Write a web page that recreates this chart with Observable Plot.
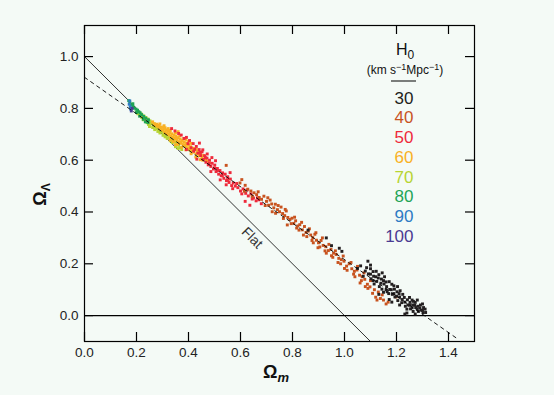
<!DOCTYPE html>
<html><head><meta charset="utf-8">
<script src="https://cdn.jsdelivr.net/npm/d3@7"></script>
<script src="https://cdn.jsdelivr.net/npm/@observablehq/plot@0.6"></script>
<style>
html,body{margin:0;padding:0;background:#f4faf6;}
#chart{width:554px;height:395px;}
</style></head><body><div id="chart"></div>
<script>
const h0Values = [30, 40, 50, 60, 70, 80, 90, 100];
const h0Colors = ["#231f20", "#c8531f", "#ee2a3b", "#f9b124", "#b7d433", "#1ea456", "#2e7bc4", "#4b3b92"];
const xTicks = [0, 0.2, 0.4, 0.6, 0.8, 1.0, 1.2, 1.4];
const yTicks = [0, 0.2, 0.4, 0.6, 0.8, 1.0];
const flatX = [0, 1.1], flatY = [1, -0.1];
const fitX = [0, 1.435], fitY = [0.92, -0.09];
const flatLabel = [{x: 0.645, y: 0.30, text: "Flat"}];

const pts70 = [[0.200,0.786],[0.206,0.779],[0.211,0.783],[0.215,0.772],[0.219,0.778],[0.224,0.766],[0.228,0.771],[0.232,0.760],[0.236,0.765],[0.240,0.754],[0.244,0.759],[0.248,0.747],[0.252,0.752],[0.256,0.741],[0.260,0.746],[0.264,0.735],[0.268,0.740],[0.272,0.729],[0.276,0.733],[0.280,0.722],[0.284,0.727],[0.288,0.716],[0.292,0.720],[0.296,0.709],[0.300,0.713],[0.305,0.703],[0.310,0.706],[0.315,0.695],[0.320,0.699],[0.326,0.688],[0.331,0.691],[0.337,0.680],[0.343,0.683],[0.349,0.671],[0.356,0.664],[0.362,0.657],[0.369,0.648],[0.374,0.641],[0.226,0.756],[0.246,0.738],[0.262,0.726],[0.282,0.711],[0.302,0.696],[0.318,0.684],[0.338,0.668],[0.250,0.730],[0.270,0.718],[0.290,0.705],[0.310,0.690],[0.330,0.675],[0.350,0.652],[0.360,0.645],[0.220,0.765],[0.240,0.745],[0.280,0.730]];
const pts60 = [[0.262,0.748],[0.268,0.741],[0.273,0.735],[0.278,0.739],[0.282,0.729],[0.287,0.734],[0.291,0.722],[0.296,0.728],[0.300,0.716],[0.304,0.723],[0.308,0.708],[0.312,0.717],[0.316,0.703],[0.320,0.712],[0.324,0.698],[0.328,0.707],[0.332,0.693],[0.336,0.702],[0.340,0.688],[0.344,0.697],[0.348,0.682],[0.352,0.692],[0.356,0.676],[0.360,0.687],[0.364,0.671],[0.368,0.682],[0.372,0.665],[0.376,0.676],[0.380,0.660],[0.384,0.670],[0.388,0.654],[0.392,0.664],[0.396,0.648],[0.400,0.659],[0.404,0.643],[0.408,0.652],[0.412,0.637],[0.416,0.646],[0.420,0.631],[0.425,0.640],[0.430,0.624],[0.435,0.633],[0.440,0.617],[0.446,0.626],[0.452,0.610],[0.458,0.618],[0.465,0.603],[0.472,0.596],[0.480,0.590],[0.350,0.705],[0.366,0.695],[0.382,0.684],[0.398,0.672],[0.342,0.672],[0.358,0.661],[0.374,0.650],[0.390,0.640],[0.410,0.625],[0.428,0.612],[0.445,0.602],[0.322,0.722],[0.306,0.733],[0.290,0.740],[0.310,0.725],[0.330,0.715],[0.350,0.685],[0.370,0.670],[0.385,0.657],[0.405,0.640],[0.420,0.645],[0.440,0.628],[0.455,0.600],[0.330,0.678],[0.350,0.660],[0.360,0.710],[0.390,0.680],[0.410,0.665],[0.430,0.642]];
const pts50 = [[0.335,0.722],[0.348,0.713],[0.362,0.703],[0.372,0.697],[0.383,0.684],[0.392,0.688],[0.398,0.664],[0.404,0.676],[0.410,0.648],[0.418,0.664],[0.424,0.642],[0.430,0.653],[0.436,0.627],[0.441,0.641],[0.447,0.618],[0.452,0.632],[0.457,0.603],[0.462,0.617],[0.467,0.592],[0.471,0.608],[0.476,0.582],[0.481,0.600],[0.486,0.576],[0.491,0.588],[0.496,0.566],[0.501,0.581],[0.506,0.556],[0.511,0.568],[0.516,0.546],[0.521,0.560],[0.526,0.540],[0.531,0.551],[0.536,0.530],[0.541,0.546],[0.546,0.521],[0.551,0.536],[0.556,0.514],[0.561,0.527],[0.566,0.502],[0.572,0.512],[0.580,0.500],[0.590,0.494],[0.600,0.481],[0.610,0.489],[0.620,0.472],[0.630,0.462],[0.640,0.470],[0.650,0.454],[0.660,0.443],[0.670,0.447],[0.680,0.432],[0.472,0.624],[0.432,0.604],[0.522,0.524],[0.560,0.552],[0.618,0.441],[0.636,0.426],[0.392,0.641],[0.442,0.666],[0.504,0.598],[0.486,0.556],[0.545,0.505],[0.420,0.635],[0.445,0.630],[0.465,0.610],[0.480,0.588],[0.500,0.570],[0.515,0.560],[0.530,0.540],[0.550,0.525],[0.570,0.490],[0.585,0.510],[0.605,0.470],[0.625,0.485],[0.645,0.450],[0.665,0.455],[0.455,0.640],[0.490,0.610]];
const pts40 = [[0.545,0.580],[0.598,0.512],[0.618,0.503],[0.628,0.488],[0.640,0.481],[0.652,0.474],[0.662,0.467],[0.672,0.456],[0.681,0.449],[0.690,0.461],[0.700,0.441],[0.708,0.426],[0.714,0.446],[0.720,0.431],[0.728,0.416],[0.734,0.430],[0.742,0.409],[0.750,0.401],[0.756,0.419],[0.762,0.394],[0.770,0.386],[0.776,0.404],[0.782,0.379],[0.790,0.371],[0.798,0.376],[0.805,0.356],[0.812,0.366],[0.820,0.346],[0.828,0.351],[0.838,0.331],[0.846,0.344],[0.852,0.321],[0.860,0.326],[0.870,0.311],[0.878,0.301],[0.886,0.314],[0.892,0.291],[0.900,0.281],[0.910,0.290],[0.918,0.271],[0.928,0.266],[0.938,0.251],[0.948,0.256],[0.958,0.241],[0.968,0.236],[0.978,0.221],[0.988,0.216],[0.998,0.210],[1.008,0.191],[1.018,0.200],[1.028,0.181],[1.038,0.171],[1.048,0.176],[1.058,0.156],[1.068,0.150],[1.078,0.140],[1.088,0.121],[1.098,0.111],[1.108,0.086],[1.120,0.071],[1.138,0.066],[1.150,0.060],[1.130,0.091],[1.168,0.052],[1.198,0.072],[0.780,0.350],[0.842,0.311],[0.950,0.231],[1.000,0.182],[1.080,0.112],[1.060,0.126],[0.930,0.241],[0.880,0.281],[0.722,0.401],[0.816,0.338],[0.898,0.262],[0.975,0.205],[1.040,0.150],[0.605,0.525],[0.615,0.480],[0.645,0.460],[0.668,0.478],[0.695,0.425],[0.705,0.455],[0.735,0.395],[0.745,0.425],[0.765,0.375],[0.772,0.410],[0.795,0.355],[0.808,0.380],[0.825,0.330],[0.835,0.360],[0.855,0.305],[0.865,0.335],[0.875,0.290],[0.890,0.320],[0.905,0.265],[0.915,0.300],[0.925,0.250],[0.940,0.275],[0.955,0.225],[0.965,0.250],[0.985,0.200],[0.995,0.230],[1.010,0.175],[1.025,0.205],[1.035,0.160],[1.050,0.190],[1.065,0.135],[1.075,0.165],[1.090,0.105],[1.100,0.135],[1.115,0.100],[1.125,0.060],[1.145,0.080],[1.160,0.045]];
const pts30 = [[0.86,0.33],[0.93,0.30],[0.95,0.27],[0.98,0.26],[0.99,0.248],[1.05,0.182],[1.062,0.192],[1.08,0.172],[1.09,0.21],[1.092,0.161],[1.10,0.181],[1.102,0.142],[1.112,0.152],[1.114,0.122],[1.122,0.171],[1.124,0.132],[1.132,0.158],[1.134,0.112],[1.142,0.141],[1.144,0.102],[1.152,0.122],[1.154,0.150],[1.162,0.112],[1.164,0.092],[1.172,0.131],[1.174,0.101],[1.182,0.121],[1.184,0.082],[1.192,0.102],[1.194,0.072],[1.202,0.092],[1.204,0.112],[1.212,0.072],[1.214,0.096],[1.222,0.062],[1.224,0.082],[1.232,0.052],[1.234,0.036],[1.242,0.061],[1.244,0.041],[1.252,0.051],[1.254,0.026],[1.262,0.041],[1.264,0.016],[1.272,0.051],[1.274,0.031],[1.282,0.036],[1.284,0.016],[1.292,0.041],[1.294,0.021],[1.302,0.011],[1.304,0.031],[1.312,0.012],[1.232,0.006],[1.272,0.006],[1.132,0.082],[1.172,0.062],[1.072,0.152],[1.212,0.041],[1.182,0.052],[1.15,0.135],[1.19,0.115],[1.25,0.07],[1.28,0.06],[1.11,0.17],[1.16,0.13],[1.205,0.058],[1.265,0.055],[1.10,0.16],[1.12,0.15],[1.14,0.125],[1.16,0.10],[1.18,0.10],[1.20,0.075],[1.22,0.05],[1.24,0.025],[1.26,0.03],[1.28,0.025],[1.30,0.02],[1.15,0.09],[1.17,0.085],[1.19,0.085],[1.21,0.085],[1.23,0.07],[1.25,0.04],[1.27,0.04],[1.29,0.03],[1.31,0.025],[1.13,0.145],[1.11,0.135],[1.085,0.185],[1.10,0.195],[1.145,0.165],[1.24,0.01],[1.26,0.06],[1.30,0.045]];
const pts80 = [[0.170,0.830],[0.174,0.824],[0.180,0.814],[0.186,0.808],[0.192,0.801],[0.198,0.797],[0.204,0.793],[0.209,0.787],[0.214,0.783],[0.220,0.776],[0.228,0.769],[0.236,0.762],[0.246,0.756],[0.226,0.758],[0.234,0.748],[0.244,0.745],[0.200,0.784],[0.186,0.818],[0.212,0.770]];
const pts90 = [[0.172,0.816],[0.176,0.806],[0.178,0.797],[0.174,0.829]];
const pts100 = [[0.180,0.790],[0.183,0.800]];

const groups = [[70, pts70], [60, pts60], [50, pts50], [80, pts80], [90, pts90], [100, pts100], [40, pts40], [30, pts30]];
const points = groups.flatMap(([h, arr]) => arr.map(([x, y]) => ({x, y, h})));
const flatLine = flatX.map((x, i) => ({x, y: flatY[i]}));
const fitLine = fitX.map((x, i) => ({x, y: fitY[i]}));

const W = 554, H = 395, mL = 84, mR = 80, mT = 25, mB = 54;
const fw = W - mL - mR, fh = H - mT - mB, tk = 9;

const legendMarks = h0Values.map((v, i) => Plot.text([String(v)], {
  text: d => d, frameAnchor: "top-left", dx: 329, dy: 72.8 + 19.7 * i,
  textAnchor: "end", lineAnchor: "middle", fontSize: 17, fill: h0Colors[i]
}));

const plot = Plot.plot({
  width: W, height: H, marginLeft: mL, marginRight: mR, marginTop: mT, marginBottom: mB,
  style: {background: "transparent", fontFamily: "'Liberation Sans', Arial, sans-serif", fontSize: "13.5px", color: "#222"},
  x: {domain: [0, 1.5], label: null},
  y: {domain: [-0.1, 1.12], label: null},
  color: {type: "ordinal", domain: h0Values, range: h0Colors},
  marks: [
    Plot.line(flatLine, {x: "x", y: "y", stroke: "#000", strokeWidth: 0.8}),
    Plot.ruleY([0], {stroke: "#000", strokeWidth: 1.2}),
    Plot.dot(points, {x: "x", y: "y", fill: "h", symbol: "square", r: 1.65}),
    Plot.line(fitLine, {x: "x", y: "y", stroke: "#000", strokeWidth: 0.9, strokeDasharray: "3.5,4"}),
    Plot.tickX(xTicks, {x: d => d, insetTop: fh - tk, stroke: "#000", strokeWidth: 1.2}),
    Plot.tickX(xTicks, {x: d => d, insetBottom: fh - tk, stroke: "#000", strokeWidth: 1.2}),
    Plot.tickY(yTicks, {y: d => d, insetRight: fw - tk, stroke: "#000", strokeWidth: 1.2}),
    Plot.tickY(yTicks, {y: d => d, insetLeft: fw - tk, stroke: "#000", strokeWidth: 1.2}),
    Plot.axisX(xTicks, {tickSize: 0, tickPadding: 6, tickFormat: d3.format(".1f"), label: null}),
    Plot.axisY(yTicks, {tickSize: 0, tickPadding: 6, tickFormat: d3.format(".1f"), label: null}),
    Plot.frame({stroke: "#000", strokeWidth: 1.2}),
    Plot.text(flatLabel, {x: "x", y: "y", text: "text", rotate: 45, fontSize: 14, fill: "#333"}),
    Plot.text(["YLABEL"], {text: d => d, frameAnchor: "left", dx: -44, dy: 11, rotate: -90, textAnchor: "middle", lineAnchor: "middle", fontSize: 18, fontWeight: "bold", fill: "#111"}),
    Plot.text(["XLABEL"], {text: d => d, frameAnchor: "bottom", dx: -3.5, dy: 30.5, textAnchor: "middle", lineAnchor: "middle", fontSize: 18, fontWeight: "bold", fill: "#111"}),
    Plot.text(["H0HEAD"], {text: d => d, frameAnchor: "top-left", dx: 320.5, dy: 24, textAnchor: "middle", lineAnchor: "middle", fontSize: 16, fill: "#111"}),
    Plot.text(["UNITS"], {text: d => d, frameAnchor: "top-left", dx: 320.5, dy: 45, textAnchor: "middle", lineAnchor: "middle", fontSize: 12, fill: "#111"}),
    ...legendMarks
  ]
});
document.getElementById("chart").appendChild(plot);

const svg = d3.select(plot.tagName.toLowerCase() === "svg" ? plot : plot.querySelector("svg"));
function rich(key, parts) {
  svg.selectAll("text").filter(function() { return this.textContent === key; }).each(function() {
    const t = d3.select(this);
    t.text(null);
    parts.forEach(p => {
      const s = t.append("tspan").text(p.t);
      if (p.dy) s.attr("dy", p.dy);
      if (p.fs) s.attr("font-size", p.fs);
      if (p.fw) s.attr("font-weight", p.fw);
      if (p.st) s.attr("font-style", p.st);
    });
  });
}
rich("YLABEL", [{t: "\u03A9"}, {t: "\u039B", dy: 4, fs: 12}]);
rich("XLABEL", [{t: "\u03A9"}, {t: "m", dy: 4, fs: 13, st: "italic"}]);
rich("H0HEAD", [{t: "H"}, {t: "0", dy: 4, fs: 12}]);
rich("UNITS", [{t: "(km s"}, {t: "\u22121", dy: -4.5, fs: 9}, {t: "Mpc", dy: 4.5}, {t: "\u22121", dy: -4.5, fs: 9}, {t: ")", dy: 4.5}]);
svg.append("line").attr("x1", mL + 307).attr("x2", mL + 332).attr("y1", mT + 56).attr("y2", mT + 56)
  .attr("stroke", "#000").attr("stroke-width", 1);
</script>
</body></html>
